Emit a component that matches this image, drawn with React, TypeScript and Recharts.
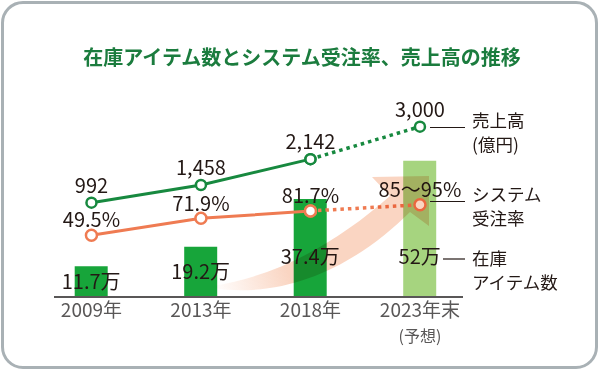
import React from "react";
import { ComposedChart, Bar, Line, XAxis, YAxis, Cell, LabelList } from "recharts";

const years = ["2009年", "2013年", "2018年", "2023年末"];
const yearNotes = ["", "", "", "(予想)"];
const itemCounts = [11.7, 19.2, 37.4, 52];
const itemLabels = ["11.7万", "19.2万", "37.4万", "52万"];
const sales = [992, 1458, 2142, 3000];
const salesLabels = ["992", "1,458", "2,142", "3,000"];
const orderRates = [49.5, 71.9, 81.7, 90];
const orderRateLabels = ["49.5%", "71.9%", "81.7%", "85〜95%"];
const forecastIndex = 3;

const FONT = '"Noto Sans CJK JP", "Noto Sans", sans-serif';
const GREEN_BAR = "#17a53a";
const GREEN_BAR_LIGHT = "#a6d47f";
const GREEN_LINE = "#17893f";
const ORANGE = "#ef7b52";
const TEXT = "#231815";
const AXIS = "#595757";

const data = years.map((year, i) => ({
  x: i,
  year,
  items: itemCounts[i],
  itemsLabel: itemLabels[i],
  salesActual: i < forecastIndex ? sales[i] : null,
  salesForecast: i >= forecastIndex - 1 ? sales[i] : null,
  salesLabelActual: i < forecastIndex ? salesLabels[i] : null,
  salesLabelForecast: i === forecastIndex ? salesLabels[i] : null,
  rateActual: i < forecastIndex ? orderRates[i] : null,
  rateForecast: i >= forecastIndex - 1 ? orderRates[i] : null,
  rateLabelActual: i < forecastIndex ? orderRateLabels[i] : null,
  rateLabelForecast: i === forecastIndex ? orderRateLabels[i] : null,
}));

// 2023年末 gets a second line "(予想)"
const YearTick = (props: any) => {
  const { x, y, payload } = props;
  const i = payload.value;
  return (
    <text x={x} y={y - 1} textAnchor="middle" fontSize={19} fill={AXIS} fontFamily={FONT}>
      <tspan x={x} dy="0.71em">
        {years[i]}
      </tspan>
      {yearNotes[i] && (
        <tspan x={x} dy={24.5} fontSize={16}>
          {yearNotes[i]}
        </tspan>
      )}
    </text>
  );
};

const pointLabel = (offset: number) => (props: any) => {
  const { x, y, value } = props;
  if (value == null) return null;
  return (
    <text x={x} y={y - offset} dy="0.36em" textAnchor="middle" fontSize={20} fill={TEXT} fontFamily={FONT}>
      {value}
    </text>
  );
};

const barLabel = (props: any) => {
  const { x, y, width, height, value } = props;
  const base = y + height;
  return (
    <text
      x={x + width / 2}
      y={base - Math.min(height / 2, 40)}
      dy="0.36em"
      textAnchor="middle"
      fontSize={20}
      fill={TEXT}
      fontFamily={FONT}
    >
      {value}
    </text>
  );
};

const greenDot = { r: 5, fill: "#fff", stroke: GREEN_LINE, strokeWidth: 2.5, strokeDasharray: "0" };
const orangeDot = { r: 5.5, fill: "#fff", stroke: ORANGE, strokeWidth: 2.5, strokeDasharray: "0" };

const legendStyle: React.CSSProperties = {
  position: "absolute",
  fontFamily: FONT,
  fontSize: 17.5,
  color: TEXT,
  lineHeight: "24px",
  whiteSpace: "nowrap",
};

export default function App() {
  return (
    <div style={{ position: "absolute", left: 0, top: 0, width: 600, height: 371, background: "#fff" }}>
      <div
        style={{
          position: "absolute",
          left: 1,
          top: 1,
          width: 597,
          height: 368,
          boxSizing: "border-box",
          border: "3.5px solid #a9b1b5",
          borderRadius: 22,
          background: "#fff",
        }}
      />
      <div
        style={{
          position: "absolute",
          left: 0,
          top: 45,
          width: 604,
          textAlign: "center",
          fontFamily: FONT,
          fontSize: 20,
          fontWeight: 700,
          lineHeight: "24px",
          color: "#1b7c3e",
        }}
      >
        在庫アイテム数とシステム受注率、売上高の推移
      </div>
      <div style={{ position: "absolute", left: 0, top: 0 }}>
        <ComposedChart width={600} height={371} data={data} margin={{ top: 100, right: 137, left: 54, bottom: 33 }}>
          <XAxis
            dataKey="x"
            type="number"
            domain={[-0.342, 3.393]}
            ticks={[0, 1, 2, 3]}
            allowDataOverflow
            height={41}
            axisLine={{ stroke: AXIS, strokeWidth: 2 }}
            tickLine={false}
            tick={<YearTick />}
          />
          <YAxis yAxisId="items" hide domain={[0, 75.2]} allowDataOverflow />
          <YAxis yAxisId="sales" hide domain={[-1500, 3704]} allowDataOverflow />
          <YAxis yAxisId="rate" hide domain={[-32.5, 229]} allowDataOverflow />
          <Bar yAxisId="items" dataKey="items" barSize={33} isAnimationActive={false}>
            {data.map((d, i) => (
              <Cell key={d.year} fill={i === forecastIndex ? GREEN_BAR_LIGHT : GREEN_BAR} />
            ))}
            <LabelList dataKey="itemsLabel" content={barLabel} />
          </Bar>
          <Line
            yAxisId="rate"
            dataKey="rateActual"
            stroke={ORANGE}
            strokeWidth={3}
            dot={orangeDot}
            activeDot={false}
            isAnimationActive={false}
          >
            <LabelList dataKey="rateLabelActual" content={pointLabel(15)} />
          </Line>
          <Line
            yAxisId="rate"
            dataKey="rateForecast"
            stroke={ORANGE}
            strokeWidth={3.5}
            strokeDasharray="3.5 4"
            dot={orangeDot}
            activeDot={false}
            isAnimationActive={false}
          >
            <LabelList dataKey="rateLabelForecast" content={pointLabel(15)} />
          </Line>
          <Line
            yAxisId="sales"
            dataKey="salesActual"
            stroke={GREEN_LINE}
            strokeWidth={3}
            dot={greenDot}
            activeDot={false}
            isAnimationActive={false}
          >
            <LabelList dataKey="salesLabelActual" content={pointLabel(17)} />
          </Line>
          <Line
            yAxisId="sales"
            dataKey="salesForecast"
            stroke={GREEN_LINE}
            strokeWidth={3.5}
            strokeDasharray="3.5 4"
            dot={greenDot}
            activeDot={false}
            isAnimationActive={false}
          >
            <LabelList dataKey="salesLabelForecast" content={pointLabel(17)} />
          </Line>
        </ComposedChart>
      </div>
      <svg
        width={600}
        height={371}
        style={{ position: "absolute", left: 0, top: 0, mixBlendMode: "multiply", pointerEvents: "none" }}
      >
        <defs>
          <linearGradient id="arrowFade" x1="212" y1="288" x2="330" y2="240" gradientUnits="userSpaceOnUse">
            <stop offset="0" stopColor="#fad5c2" stopOpacity={0} />
            <stop offset="0.6" stopColor="#fad5c2" stopOpacity={1} />
            <stop offset="1" stopColor="#fad5c2" stopOpacity={1} />
          </linearGradient>
        </defs>
        <path
          d="M212 286 C280 276 340 240 390 196 L372 177 L429 176 L429 226 L410 212 C360 262 290 300 212 288 Z"
          fill="url(#arrowFade)"
        />
      </svg>
      <svg width={600} height={371} style={{ position: "absolute", left: 0, top: 0, pointerEvents: "none" }}>
        <g stroke={TEXT} strokeWidth={1.2}>
          <line x1={430} y1={127.5} x2={465} y2={127.5} />
          <line x1={430} y1={201.5} x2={465} y2={201.5} />
          <line x1={443} y1={259} x2={465} y2={259} />
        </g>
      </svg>
      <div style={{ ...legendStyle, left: 472, top: 108 }}>
        売上高
        <br />
        (億円)
      </div>
      <div style={{ ...legendStyle, left: 472, top: 182 }}>
        システム
        <br />
        受注率
      </div>
      <div style={{ ...legendStyle, left: 472, top: 246 }}>
        在庫
        <br />
        アイテム数
      </div>
    </div>
  );
}
